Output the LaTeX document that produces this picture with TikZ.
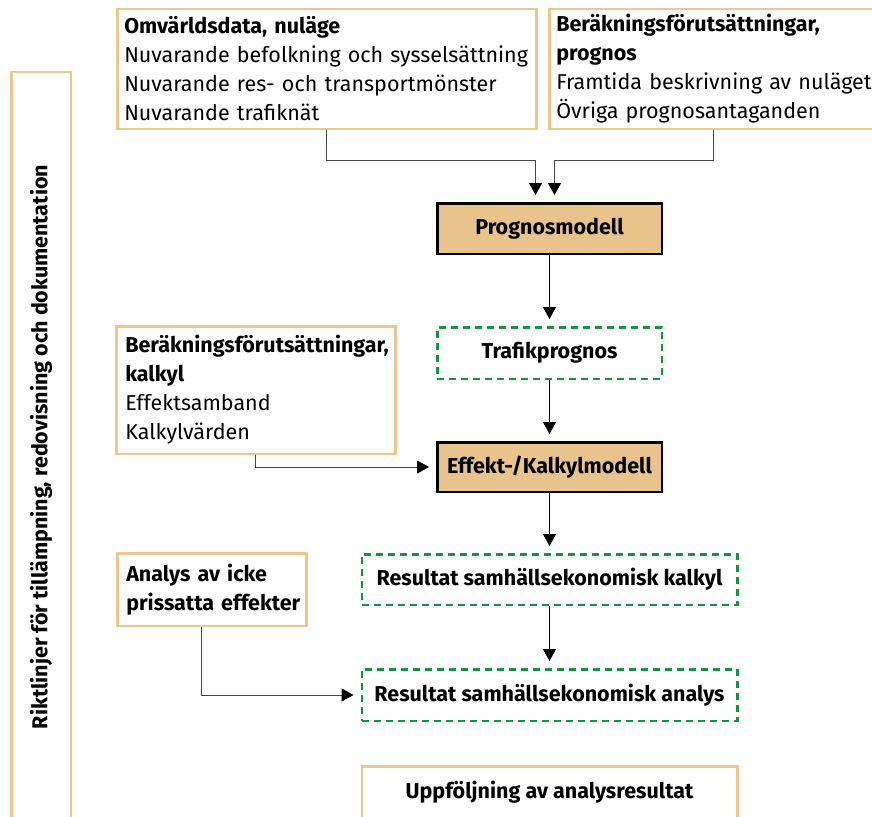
\documentclass[tikz,border=0pt]{standalone}
\usepackage{fontspec}
\setmainfont{Fira Sans}
\usepackage{tikz}
\usetikzlibrary{positioning,arrows.meta,calc}

\definecolor{kanttan}{RGB}{238,199,140}
\definecolor{modelltan}{RGB}{232,196,140}
\definecolor{resgron}{RGB}{16,150,60}
\definecolor{pilgra}{RGB}{70,70,70}

\begin{document}
\begin{tikzpicture}[x=1pt, y=-1pt, >={Triangle[length=12pt,width=13pt,color=black]},
    every node/.style={font=\fontsize{21.5}{29}\selectfont},
    indata/.style={draw=kanttan, line width=2.5pt, fill=white, align=left, inner xsep=7pt, inner ysep=3pt},
    modell/.style={draw=black, line width=2.5pt, fill=modelltan, minimum width=224.5pt, font=\fontsize{21.5}{26}\selectfont\bfseries},
    resultat/.style={draw=resgron, line width=2.5pt, dash pattern=on 7pt off 5pt, minimum width=375.5pt, font=\fontsize{21.5}{26}\selectfont\bfseries},
    pil/.style={->, black, line width=1.2pt, shorten >=7pt},
    knapil/.style={->, pilgra, line width=1pt, shorten >=7pt}]
  \clip (0,0) rectangle (872,816);

  % side box
  \node[draw=kanttan, line width=2.5pt, rotate=90, minimum width=750pt, minimum height=59.5pt,
    font=\fontsize{21.5}{26}\selectfont\bfseries] (riktl) at (41,447)
    {Riktlinjer för tillämpning, redovisning och dokumentation};

  % input boxes
  \node[indata, anchor=north west, text width=405pt, minimum height=119.5pt] (omv) at (116,8)
    {\textbf{Omvärldsdata, nuläge}\\\mbox{Nuvarande befolkning och sysselsättning}\\Nuvarande res- och transportmönster\\Nuvarande trafiknät};
  \node[indata, anchor=north west, text width=315pt, minimum height=119.5pt] (progfs) at (548,8)
    {\textbf{Beräkningsförutsättningar,}\\\textbf{prognos}\\\mbox{Framtida beskrivning av nuläget}\\Övriga prognosantaganden};
  \node[indata, anchor=north west, text width=261pt, minimum height=127.5pt, inner xsep=9pt] (kalkfs) at (115,325)
    {\mbox{\textbf{Beräkningsförutsättningar,}}\\\textbf{kalkyl}\\Effektsamband\\Kalkylvärden};
  \node[indata, anchor=north west, text width=171pt, minimum height=72.5pt, inner xsep=9pt,
    font=\fontsize{21.5}{29}\selectfont\bfseries] (ana) at (116,552)
    {Analys av icke\\\mbox{prissatta effekter}};

  % main flow
  \node[modell, minimum height=50.5pt] (prog) at (549.5,228.5) {Prognosmodell};
  \node[resultat, minimum width=224.5pt, minimum height=51.5pt, below=71pt of prog] (trafik) {Trafikprognos};
  \node[modell, minimum height=49.5pt, below=61pt of trafik] (eff) {Effekt-/Kalkylmodell};
  \node[resultat, minimum height=50.5pt, below=60pt of eff] (resk) {Resultat samhällsekonomisk kalkyl};
  \node[resultat, minimum height=51.5pt, below=62pt of resk] (resa) {Resultat samhällsekonomisk analys};
  \node[indata, align=center, minimum width=375.5pt, minimum height=51.5pt,
    font=\fontsize{21.5}{26}\selectfont\bfseries, below=43pt of resa] (uppf) {Uppföljning av analysresultat};

  % connectors
  \draw[knapil] (omv.south) -- ++(0,30) -| ([xshift=-14pt]prog.north);
  \draw[knapil] (progfs.south) -- ++(0,30) -| ([xshift=5pt]prog.north);
  \draw[pil] (prog) -- (trafik);
  \draw[pil] (trafik) -- (eff);
  \draw[knapil] (kalkfs.south) |- (eff.west);
  \draw[pil] (eff) -- (resk);
  \draw[pil] (resk) -- (resa);
  \draw[knapil] ([xshift=-10pt]ana.south) |- (resa.west);
\end{tikzpicture}
\end{document}
